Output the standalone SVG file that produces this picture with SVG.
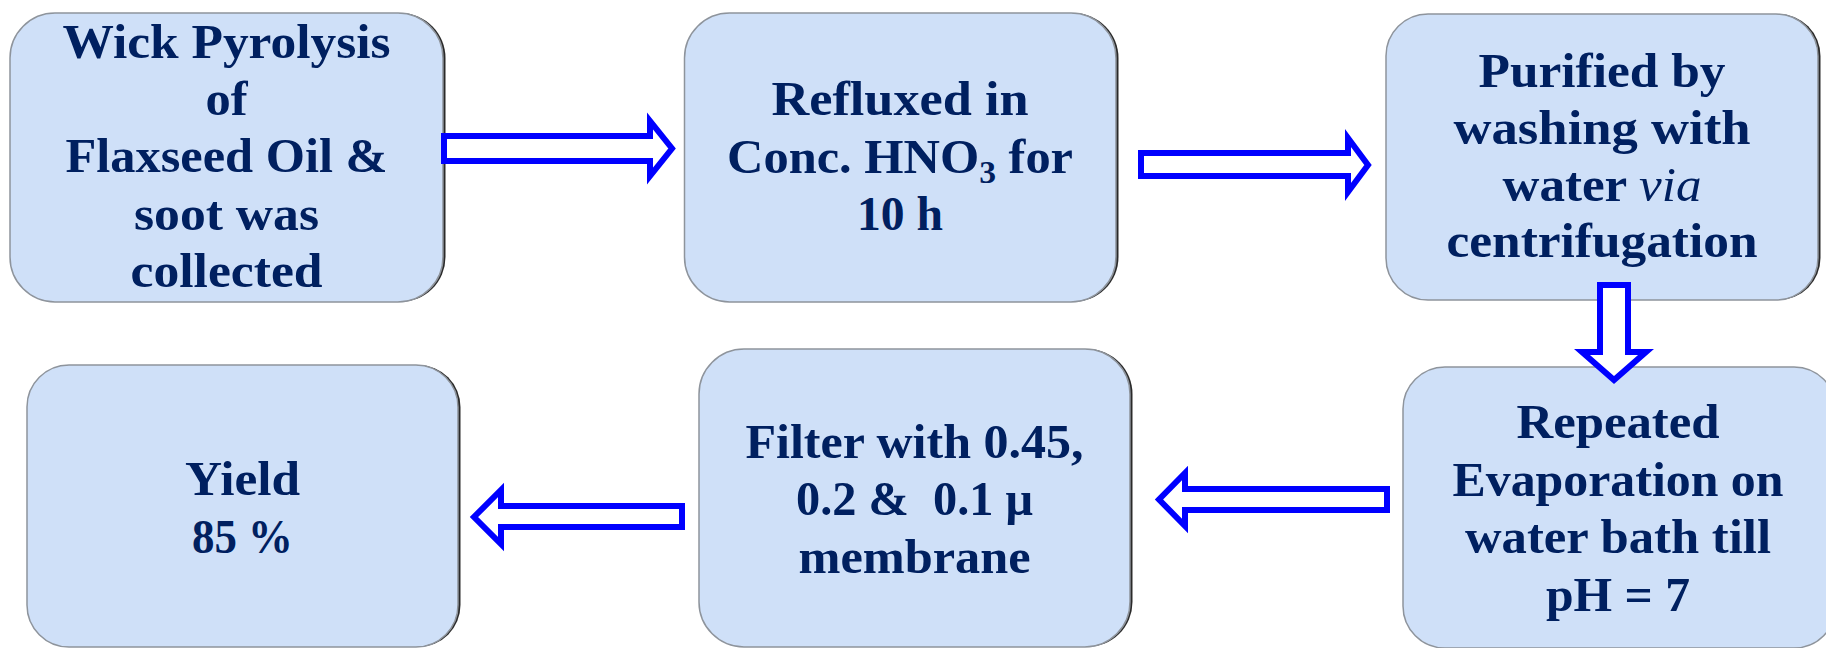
<svg xmlns="http://www.w3.org/2000/svg" width="1826" height="648" viewBox="0 0 1826 648">
<style>
.shadow{fill:#2a2a2a}
.box{fill:#cfe0f8;stroke:#8e949c;stroke-width:1.5}
.t{font-family:"Liberation Serif","Times New Roman",serif;font-weight:bold;font-size:48px;fill:#002060;text-anchor:middle}
.arrow{fill:#ffffff;stroke:#0000ff;stroke-width:6;stroke-linejoin:miter;stroke-miterlimit:10}
</style>
<rect width="1826" height="648" fill="#ffffff"/>
<g id="node1">
<rect class="shadow" x="12.5" y="13" width="433" height="289" rx="45"/>
<rect class="box" x="10" y="13" width="433" height="289" rx="45"/>
<text class="t" x="226.5" y="58" textLength="328" lengthAdjust="spacingAndGlyphs">Wick Pyrolysis</text>
<text class="t" x="226.5" y="115" textLength="42" lengthAdjust="spacingAndGlyphs">of</text>
<text class="t" x="226.5" y="172" textLength="322" lengthAdjust="spacingAndGlyphs">Flaxseed Oil &amp;</text>
<text class="t" x="226.5" y="230" textLength="185" lengthAdjust="spacingAndGlyphs">soot was</text>
<text class="t" x="226.5" y="287" textLength="192" lengthAdjust="spacingAndGlyphs">collected</text>
</g>
<g id="node2">
<rect class="shadow" x="687" y="13" width="431.5" height="289" rx="45"/>
<rect class="box" x="684.5" y="13" width="431.5" height="289" rx="45"/>
<text class="t" x="900" y="115" textLength="257" lengthAdjust="spacingAndGlyphs">Refluxed in</text>
<text class="t" x="900" y="173" textLength="346" lengthAdjust="spacingAndGlyphs">Conc. HNO<tspan font-size="32" dy="10">3</tspan><tspan dy="-10"> for</tspan></text>
<text class="t" x="900" y="230" textLength="86" lengthAdjust="spacingAndGlyphs">10 h</text>
</g>
<g id="node3">
<rect class="shadow" x="1388.5" y="14" width="432" height="286" rx="42"/>
<rect class="box" x="1386" y="14" width="432" height="286" rx="42"/>
<text class="t" x="1602" y="87" textLength="247" lengthAdjust="spacingAndGlyphs">Purified by</text>
<text class="t" x="1602" y="144" textLength="297" lengthAdjust="spacingAndGlyphs">washing with</text>
<text class="t" x="1602" y="201" textLength="199" lengthAdjust="spacingAndGlyphs">water <tspan font-style="italic" font-weight="normal">via</tspan></text>
<text class="t" x="1602" y="257" textLength="311" lengthAdjust="spacingAndGlyphs">centrifugation</text>
</g>
<g id="node4">
<rect class="box" x="1403" y="367" width="433" height="281" rx="42"/>
<text class="t" x="1618" y="438" textLength="203" lengthAdjust="spacingAndGlyphs">Repeated</text>
<text class="t" x="1618" y="496" textLength="331" lengthAdjust="spacingAndGlyphs">Evaporation on</text>
<text class="t" x="1618" y="553" textLength="306" lengthAdjust="spacingAndGlyphs">water bath till</text>
<text class="t" x="1618" y="611" textLength="144" lengthAdjust="spacingAndGlyphs">pH = 7</text>
</g>
<g id="node5">
<rect class="shadow" x="29.5" y="365" width="431" height="282" rx="42"/>
<rect class="box" x="27" y="365" width="431" height="282" rx="42"/>
<text class="t" x="242.5" y="495" textLength="115" lengthAdjust="spacingAndGlyphs">Yield</text>
<text class="t" x="242.5" y="553" textLength="101" lengthAdjust="spacingAndGlyphs">85 %</text>
</g>
<g id="node6">
<rect class="shadow" x="701.5" y="349" width="431" height="298" rx="45"/>
<rect class="box" x="699" y="349" width="431" height="298" rx="45"/>
<text class="t" x="914.5" y="458" textLength="338" lengthAdjust="spacingAndGlyphs">Filter with 0.45,</text>
<text class="t" x="914.5" y="515" textLength="237" lengthAdjust="spacingAndGlyphs" xml:space="preserve">0.2 &amp;  0.1 μ</text>
<text class="t" x="914.5" y="573" textLength="232" lengthAdjust="spacingAndGlyphs">membrane</text>
</g>
<g id="connectors">
<polygon class="arrow" points="444,136 650,136 650,121 672,148.5 650,176 650,161 444,161"/>
<polygon class="arrow" points="1141,153 1348,153 1348,138 1368,165 1348,192 1348,176 1141,176"/>
<polygon class="arrow" points="1600,285 1628,285 1628,352 1646,352 1614,380 1582,352 1600,352"/>
<polygon class="arrow" points="1387,489 1185,489 1185,473 1159,499.5 1185,526 1185,510 1387,510"/>
<polygon class="arrow" points="682,506 501,506 501,490 474,517 501,544 501,527 682,527"/>
</g>
</svg>
